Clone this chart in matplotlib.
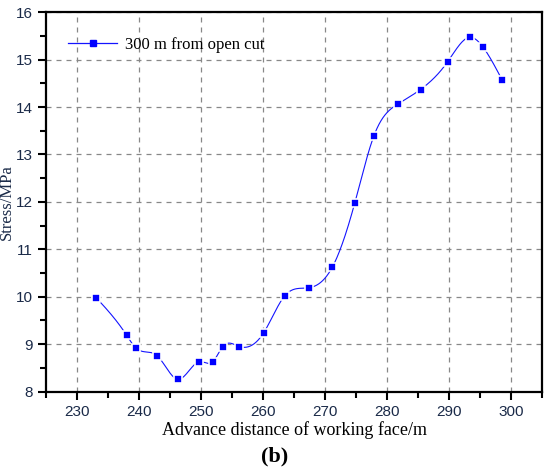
import numpy as np
import matplotlib
matplotlib.use("Agg")
import matplotlib.pyplot as plt
from matplotlib.ticker import MultipleLocator

# advance distance (m) and stress (MPa)
distance = [233.1, 238.0, 239.5, 242.9, 246.3, 249.7, 251.9, 253.5, 256.2, 260.1, 263.5,
            267.4, 271.2, 274.8, 277.9, 281.7, 285.4, 289.8, 293.3, 295.5, 298.6]
stress = [9.98, 9.19, 8.92, 8.76, 8.26, 8.63, 8.63, 8.95, 8.95, 9.24, 10.02,
          10.19, 10.63, 11.98, 13.40, 14.06, 14.37, 14.96, 15.47, 15.26, 14.56]
series_label = "300 m from open cut"


def natural_spline(x, y, n=600):
    # natural cubic spline through the points, for the smooth connecting line
    x = np.asarray(x, float)
    y = np.asarray(y, float)
    k = len(x)
    h = np.diff(x)
    A = np.zeros((k, k))
    b = np.zeros(k)
    A[0, 0] = A[-1, -1] = 1
    for i in range(1, k - 1):
        A[i, i - 1] = h[i - 1]
        A[i, i] = 2 * (h[i - 1] + h[i])
        A[i, i + 1] = h[i]
        b[i] = 6 * ((y[i + 1] - y[i]) / h[i] - (y[i] - y[i - 1]) / h[i - 1])
    M = np.linalg.solve(A, b)
    xs = np.linspace(x[0], x[-1], n)
    idx = np.clip(np.searchsorted(x, xs) - 1, 0, k - 2)
    x0, x1 = x[idx], x[idx + 1]
    hh = x1 - x0
    t0, t1 = x1 - xs, xs - x0
    ys = (M[idx] * t0**3 + M[idx + 1] * t1**3) / (6 * hh) \
        + (y[idx] / hh - M[idx] * hh / 6) * t0 + (y[idx + 1] / hh - M[idx + 1] * hh / 6) * t1
    return xs, ys


fig = plt.figure(figsize=(5.5, 4.69), dpi=100)
ax = fig.add_axes([0.0836, 0.165, 0.902, 0.809])

blue = "#1414ff"
xs, ys = natural_spline(distance, stress)
ax.plot(xs, ys, color=blue, lw=0.8, zorder=3)
ax.plot(distance, stress, ls="none", marker="s", ms=6, color="#0000ff",
        mec="white", mew=1.2, zorder=4)
ax.plot([], [], color=blue, lw=0.9, marker="s", ms=4.5, mfc="#0000ff", mec="#0000ff",
        label=series_label)

ax.set_xlim(225, 305)
ax.set_ylim(8, 16)
ax.xaxis.set_major_locator(MultipleLocator(10))
ax.xaxis.set_minor_locator(MultipleLocator(5))
ax.yaxis.set_major_locator(MultipleLocator(1))
ax.yaxis.set_minor_locator(MultipleLocator(0.5))
ax.set_xticks([230, 240, 250, 260, 270, 280, 290, 300])

ax.grid(True, which="major", ls=(0, (4, 4)), color="#888888", lw=0.9)
ax.tick_params(which="both", direction="out", top=False, right=False, width=1.5,
               labelsize=11, labelcolor="#1a2a48")
ax.tick_params(which="major", length=6)
ax.tick_params(which="minor", length=4)
for lab in ax.get_xticklabels() + ax.get_yticklabels():
    lab.set_family("Liberation Sans")
for s in ax.spines.values():
    s.set_linewidth(1.6)

ax.set_xlabel("Advance distance of working face/m", family="Liberation Serif", fontsize=13, labelpad=2)
ax.set_ylabel("Stress/MPa", family="Liberation Serif", fontsize=12, color="#1a2a48")
ax.yaxis.set_label_coords(-0.063, 0.5)

leg = ax.legend(loc="upper left", frameon=False, prop={"family": "Liberation Serif", "size": 12},
                handlelength=2.9, handletextpad=0.5, bbox_to_anchor=(0.015, 0.975))

fig.text(0.5, 0.026, "(b)", family="Liberation Serif", fontsize=16, fontweight="bold",
         ha="center", va="center")

fig.savefig("out.png", dpi=100)
